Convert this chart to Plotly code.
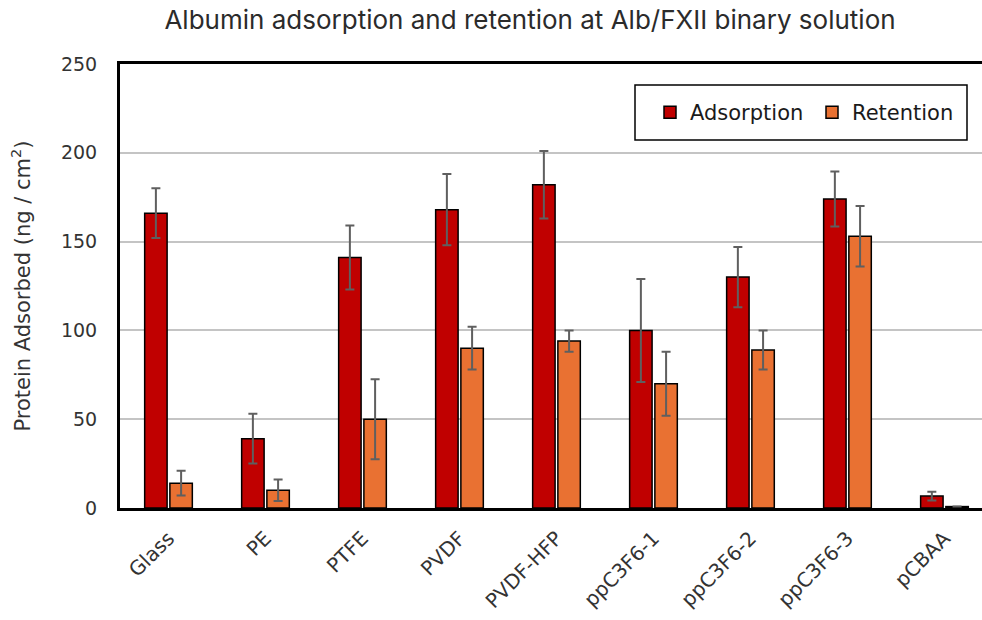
import plotly.graph_objects as go

categories = ["Glass", "PE", "PTFE", "PVDF", "PVDF-HFP", "ppC3F6-1", "ppC3F6-2", "ppC3F6-3", "pCBAA"]
adsorption = [166, 39, 141, 168, 182, 100, 130, 174, 6.7]
adsorption_err = [14, 14, 18, 20, 19, 29, 17, 15.5, 2.5]
retention = [14, 10, 50, 90, 94, 70, 89, 153, 0.8]
retention_err = [7, 6, 22.5, 12, 6, 18, 11, 17, 0]

title_text = "Albumin adsorption and retention at Alb/FXII binary solution"
y_title = "Protein Adsorbed (ng / cm<sup>2</sup>)"
y_ticks = [0, 50, 100, 150, 200, 250]

fig = go.Figure()
fig.add_trace(go.Bar(
    name="Adsorption", x=categories, y=adsorption,
    marker=dict(color="#C00000", line=dict(color="black", width=1.5)),
    error_y=dict(type="data", array=adsorption_err, color="#5f5f5f", thickness=2, width=4.5),
))
fig.add_trace(go.Bar(
    name="Retention", x=categories, y=retention,
    marker=dict(color="#E97132", line=dict(color="black", width=1.5)),
    error_y=dict(type="data", array=retention_err, color="#5f5f5f", thickness=2, width=4.5),
))

font_axes = "DejaVu Sans, sans-serif"
fig.update_layout(
    width=982, height=620,
    margin=dict(l=120, r=0, t=64, b=112),
    paper_bgcolor="white", plot_bgcolor="white",
    barmode="group", bargap=0.48, bargroupgap=0.11,
    title=dict(text=title_text, x=530 / 982, xref="container", xanchor="center",
               y=1 - 20 / 620, yref="container", yanchor="middle",
               font=dict(family="Inter, Open Sans, sans-serif", size=26, color="#2b2b2b")),
    legend=dict(orientation="h", x=(650 - 120) / 862, xanchor="left",
                y=(508 - 112.5) / 444, yanchor="middle",
                borderwidth=0, bgcolor="rgba(0,0,0,0)",
                font=dict(family=font_axes, size=21, color="#1a1a1a"),
                itemwidth=30, entrywidth=117, entrywidthmode="pixels"),
    showlegend=True,
    shapes=[dict(type="rect", xref="paper", yref="paper",
                 x0=(635 - 120) / 862, x1=(967 - 120) / 862,
                 y0=(508 - 140) / 444, y1=(508 - 85) / 444,
                 line=dict(color="black", width=1.5), fillcolor="white", layer="above")],
)
fig.update_xaxes(
    range=[-0.5, 8.387], showline=True, mirror=True, linecolor="black", linewidth=2.5,
    tickangle=-45, tickfont=dict(family=font_axes, size=20, color="#333333"),
    showgrid=False, ticks="", ticklabelstandoff=8,
)
fig.update_yaxes(
    range=[0, 250], tickvals=y_ticks, showline=True, linecolor="black", linewidth=3,
    showgrid=True, gridcolor="#c4c4c4", gridwidth=2, zeroline=False, ticks="",
    ticklabelstandoff=16,
    tickfont=dict(family=font_axes, size=19, color="#333333"),
    title=dict(text=y_title, standoff=25, font=dict(family=font_axes, size=21, color="#333333")),
)

fig.write_html("out.html")
